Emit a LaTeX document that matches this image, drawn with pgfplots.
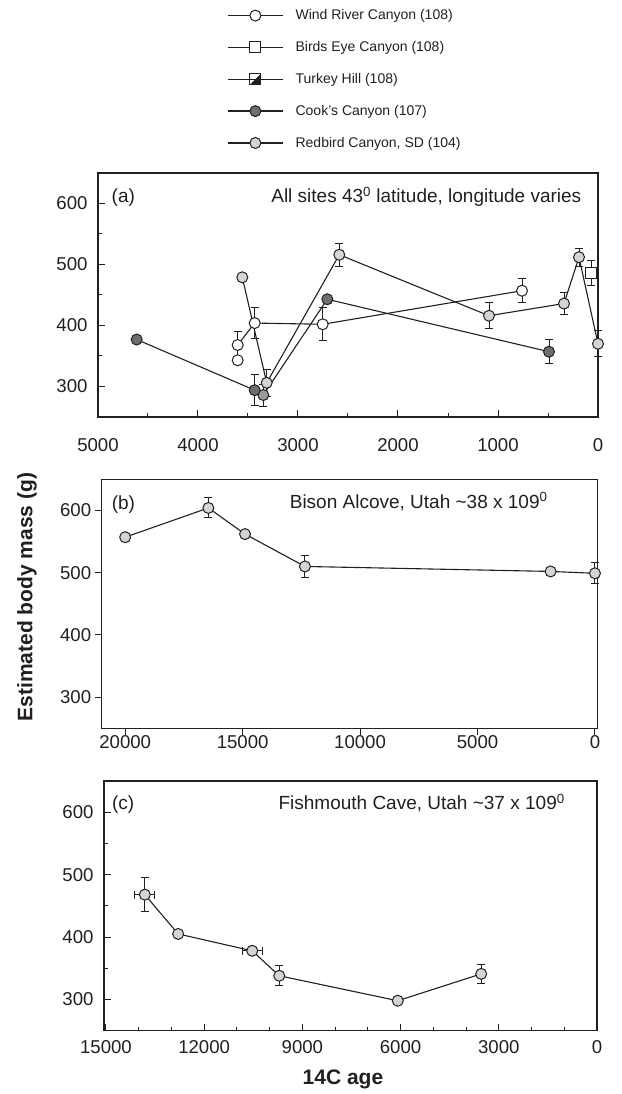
\documentclass[border=0pt]{standalone}
\usepackage{fontspec}
\setmainfont{Liberation Sans}
\usepackage{pgfplots}
\pgfplotsset{compat=1.18}
\definecolor{ink}{HTML}{231F20}
\definecolor{cookfill}{HTML}{6E6E6E}
\definecolor{midfill}{HTML}{9A9A9A}
\definecolor{redfill}{HTML}{D4D4D4}

\pgfdeclareplotmark{diagsq}{%
  \pgfpathmoveto{\pgfqpoint{-\pgfplotmarksize}{-\pgfplotmarksize}}%
  \pgfpathlineto{\pgfqpoint{\pgfplotmarksize}{-\pgfplotmarksize}}%
  \pgfpathlineto{\pgfqpoint{\pgfplotmarksize}{\pgfplotmarksize}}%
  \pgfpathclose
  \pgfsetfillcolor{ink}\pgfusepathqfill
  \pgfpathrectangle{\pgfqpoint{-\pgfplotmarksize}{-\pgfplotmarksize}}{\pgfqpoint{2\pgfplotmarksize}{2\pgfplotmarksize}}%
  \pgfusepathqstroke
}

\tikzset{anno/.style={font=\fontsize{19}{22}\selectfont, text=ink, inner sep=0pt}}

\pgfplotsset{
  panel/.style={
    scale only axis,
    axis line style={line width=1.5pt, ink},
    every tick/.style={ink, line width=1pt},
    major tick length=7pt, minor tick length=4pt,
    ymin=250, ymax=650, ytick={300,400,500,600},
    tick label style={font=\fontsize{18.6}{22}\selectfont, text=ink},
    /pgf/number format/assume math mode=true,
    /pgf/number format/1000 sep={},
    scaled ticks=false,
    xtick pos=bottom, ytick pos=left,
    clip=false,
  },
  ser/.style={ink, line width=1.1pt, mark=*, mark size=5.5pt,
    mark options={fill=#1, draw=ink, line width=1pt, solid}},
  eb/.style={only marks, mark=none, forget plot,
    error bars/.cd, y dir=both, y explicit,
    error bar style={ink, line width=1pt},
    error mark options={rotate=90, mark size=4pt, line width=1pt, ink}},
  ebx/.style={only marks, mark=none, forget plot,
    error bars/.cd, x dir=both, x explicit,
    error bar style={ink, line width=1pt},
    error mark options={rotate=90, mark size=4pt, line width=1pt, ink}},
}

\begin{document}
\begin{tikzpicture}[x=1pt,y=1pt]
\path[use as bounding box] (0,0) rectangle (621,-1094);

% ---------------- Panel (a) ----------------
\begin{axis}[panel,
  at={(98pt,-173pt)}, anchor=north west,
  width=500pt, height=244pt,
  xmin=0, xmax=5000, x dir=reverse,
  xtick={0,1000,...,5000}, minor x tick num=1, minor y tick num=1,
  tick align=inside,
  xticklabel style={yshift=-18pt},
  yticklabel style={xshift=-7pt},
  legend style={at={(0.258,1.678)}, anchor=north west, draw=none, fill=none,
    font=\fontsize{14}{16.5}\selectfont, text=ink, row sep=16.2pt, inner sep=0pt,
    /tikz/every odd column/.append style={column sep=10pt}},
  legend cell align=left,
  legend image code/.code={\draw[mark repeat=2,mark phase=2,#1,line width=1.4pt] plot coordinates {(0pt,0pt) (27.5pt,0pt) (55pt,0pt)};},
]
% error bars first
\addplot[eb] table[x=x,y=y,y error=e] {
x y e
3603 368 22
3433 404 26
2753 402 27
760 457 20
};
\addplot[eb] table[x=x,y=y,y error=e] {
x y e
70 486 21
};
\addplot[eb] table[x=x,y=y,y error=e] {
x y e
3433 294 25
3347 286 18
490 357 20
};
\addplot[eb] table[x=x,y=y,y error=e] {
x y e
3313 306 22
2587 516 19
1090 416 21
340 436 18
190 512 15
0 370 21
};
% Cook's Canyon (line, then marks)
\addplot[ink, line width=1.1pt, mark=none, forget plot] table {
4613 377
3433 294
3347 286
2707 443
490 357
};
\addplot[ser=midfill, only marks, forget plot] table {
3347 286
};
\addplot[ser=cookfill, only marks, forget plot] table {
4613 377
3433 294
2707 443
490 357
};
% Wind River Canyon
\addplot[ser=white, forget plot] table {
3603 368
3433 404
2753 402
760 457
};
\addplot[ser=white, only marks, forget plot] table {
3603 343
};
% Redbird Canyon
\addplot[ser=redfill, forget plot] table {
3557 479
3313 306
2587 516
1090 416
340 436
190 512
0 370
};
% Birds Eye Canyon
\addplot[ink, only marks, mark=square*, mark size=5.5pt, mark options={fill=white, draw=ink, line width=1pt}, forget plot] table {
70 486
};
\addlegendimage{ser=white}
\addlegendentry{Wind River Canyon (108)}
\addlegendimage{ink, line width=1.1pt, mark=square*, mark size=5.5pt, mark options={fill=white, draw=ink, line width=1pt}}
\addlegendentry{Birds Eye Canyon (108)}
\addlegendimage{ink, line width=1.1pt, mark=diagsq, mark size=5.5pt, mark options={fill=white, draw=ink, line width=1pt}}
\addlegendentry{Turkey Hill (108)}
\addlegendimage{ser=cookfill}
\addlegendentry{Cook's Canyon (107)}
\addlegendimage{ser=redfill}
\addlegendentry{Redbird Canyon, SD (104)}
\node[anno, anchor=base west] at (axis description cs:0.027,0.88) {(a)};
\node[anno, anchor=base east] at (axis description cs:0.967,0.88) {All sites 43\textsuperscript{0} latitude, longitude varies};
\end{axis}

% ---------------- Panel (b) ----------------
\begin{axis}[panel,
  at={(101.7pt,-479.3pt)}, anchor=north west,
  width=495.6pt, height=249pt,
  xmin=-100, xmax=21000, x dir=reverse,
  xtick={0,5000,...,20000},
  tick align=outside,
  xticklabel style={yshift=3pt},
]
\addplot[eb] table[x=x,y=y,y error=e] {
x y e
16459 604 16
12347 510 18
0 499 17
};
\addplot[ser=redfill] table {
20000 557
16459 604
14898 562
12347 510
1888 502
0 499
};
\node[anno, anchor=base west] at (axis description cs:0.02,0.88) {(b)};
\node[anno, anchor=base east] at (axis description cs:0.90,0.884) {Bison Alcove, Utah \textasciitilde38 x 109\textsuperscript{0}};
\end{axis}

% ---------------- Panel (c) ----------------
\begin{axis}[panel,
  at={(104pt,-781pt)}, anchor=north west,
  width=493pt, height=249.7pt,
  xmin=0, xmax=15060, x dir=reverse,
  xtick={0,3000,...,15000}, minor x tick num=2, minor y tick num=1,
  tick align=inside,
  xticklabel style={yshift=-6pt},
  yticklabel style={xshift=-7pt},
]
\addplot[eb] table[x=x,y=y,y error=e] {
x y e
13813 468 27
9706 338 16
3538 341 15
};
\addplot[ebx] table[x=x,y=y,x error=e] {
x y e
13813 468 300
10532 378 300
};
\addplot[ser=redfill] table {
13813 468
12795 405
10532 378
9706 338
6086 298
3538 341
};
\node[anno, anchor=base west] at (axis description cs:0.016,0.887) {(c)};
\node[anno, anchor=base east] at (axis description cs:0.935,0.884) {Fishmouth Cave, Utah \textasciitilde37 x 109\textsuperscript{0}};
\end{axis}

\node[rotate=90, font=\bfseries\fontsize{21}{24}\selectfont, text=ink] at (27,-597) {Estimated body mass (g)};
\node[anchor=base, font=\bfseries\fontsize{21}{24}\selectfont, text=ink] at (343,-1084) {14C age};
\end{tikzpicture}
\end{document}
